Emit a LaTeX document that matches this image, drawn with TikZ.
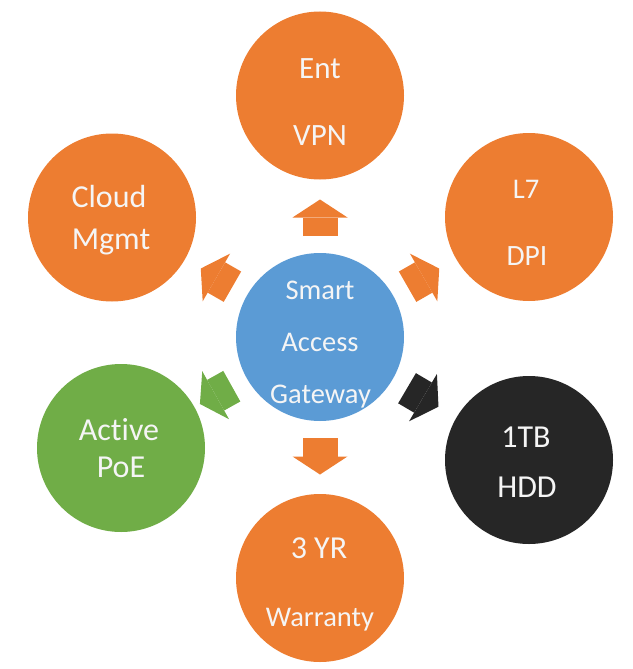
\documentclass[tikz,border=0pt]{standalone}
\usepackage{fontspec}
\setmainfont{Carlito}[Ligatures=NoCommon]
\usetikzlibrary{calc,arrows.meta}
\definecolor{accOrange}{HTML}{ED7D31}
\definecolor{accBlue}{HTML}{5B9BD5}
\definecolor{accGreen}{HTML}{70AD47}
\definecolor{accDark}{HTML}{262626}
\begin{document}
\begin{tikzpicture}[x=1pt,y=-1pt,
  bubble/.style={circle, minimum size=168pt, inner sep=0pt, draw=none},
  txt/.style={anchor=base, text=white!96!black, inner sep=0pt, font=\fontsize{32}{38}\selectfont},
  txts/.style={txt, font=\fontsize{28.5}{34}\selectfont},
  blockarrow/.style={line width=35pt, -{Triangle[width=55pt, length=18pt, line width=0pt]}}]
\useasboundingbox (0,0) rectangle (632,669);
% circles
\node[bubble, fill=accBlue]   (c) at (320,337) {};
\node[bubble, fill=accOrange] (t) at (320,95.5) {};
\node[bubble, fill=accOrange] (m) at (112,217.5) {};
\node[bubble, fill=accOrange] (l) at (529,217) {};
\node[bubble, fill=accGreen]  (p) at (121,448) {};
\node[bubble, fill=accDark]   (h) at (529,460) {};
\node[bubble, fill=accOrange] (w) at (320,578) {};
% arrows
\foreach \s/\col in {t/accOrange, m/accOrange, l/accOrange, p/accGreen, h/accDark, w/accOrange}{
  \draw[blockarrow, draw=\col] ($(c.center)!101pt!(\s.center)$) -- ($(c.center)!137.5pt!(\s.center)$);
}
% texts
\node[txts] (c1) at (320,299) {Smart};
\node[txts] (c2) at (320,351) {Access};
\node[txts] (c3) at (320.5,403) {Gateway};
\node[txt, font=\fontsize{31}{37}\selectfont] (t1) at (320,78) {Ent};
\node[txt, font=\fontsize{31}{37}\selectfont] (t2) at (320,145) {VPN};
\node[txt] (m1) at (109,207) {Cloud};
\node[txt] (m2) at (111,249) {Mgmt};
\node[txt, font=\fontsize{28.5}{34}\selectfont] (l1) at (526,198) {L7};
\node[txt, font=\fontsize{29.5}{35}\selectfont] (l2) at (527,265) {DPI};
\node[txt] (p1) at (119,440) {Active};
\node[txt] (p2) at (121,477) {PoE};
\node[txt] (h1) at (526,447) {1TB};
\node[txt] (h2) at (527,497) {HDD};
\node[txt] (w1) at (319,558) {3 YR};
\node[txts] (w2) at (320,626) {Warranty};
\end{tikzpicture}
\end{document}
